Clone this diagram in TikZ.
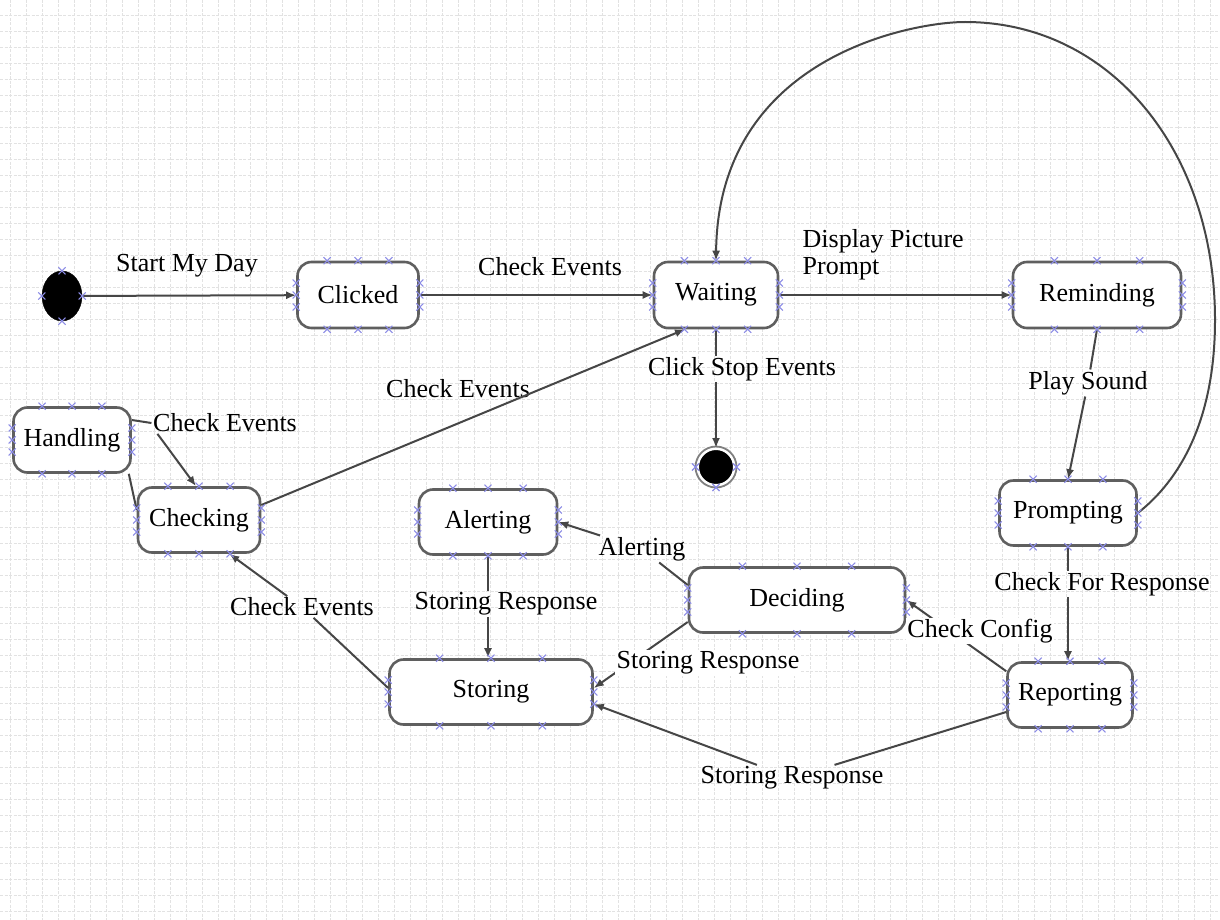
\documentclass[tikz,border=0pt]{standalone}
\usepackage{fontspec}
\setmainfont{Liberation Serif}
\usetikzlibrary{arrows.meta,shapes.geometric,shapes.misc,calc}
\definecolor{edgec}{RGB}{70,70,70}
\definecolor{boxc}{RGB}{95,95,95}
\definecolor{markc}{RGB}{140,140,230}
\definecolor{gridc}{RGB}{226,226,226}
\tikzset{
  st/.style={draw=boxc, line width=2.6pt, rounded corners=14pt, fill=white, inner sep=2pt, font=\fontsize{26}{28}\selectfont},
  lbl/.style={inner sep=1.5pt, font=\fontsize{26}{28}\selectfont},
  lblw/.style={lbl, fill=white},
  conn/.style={draw=edgec, line width=2pt},
  arr/.style={conn, -{Latex[length=10pt,width=8pt]}},
  mk/.style={draw=markc, cross out, minimum size=6pt, inner sep=0pt, line width=1.1pt},
  gridline/.style={draw=gridc, line width=0.8pt, dash pattern=on 3pt off 1.5pt}
}
\begin{document}
\begin{tikzpicture}[x=1pt,y=-1pt]
\useasboundingbox (0,0) rectangle (1220,920);
\fill[white] (0,0) rectangle (1220,920);
\foreach \gx in {10,26,...,1220} { \draw[gridline] (\gx,0) -- (\gx,920); }
\foreach \gy in {15,31,...,920} { \draw[gridline] (0,\gy) -- (1220,\gy); }

% states
\node[ellipse, fill=black, draw=black, minimum width=40pt, minimum height=50pt, inner sep=0pt] (init) at (62,296) {};
\node[st, minimum width=121pt, minimum height=66pt] (clicked) at (358,295) {Clicked};
\node[st, minimum width=124pt, minimum height=66pt] (waiting) at (716,295) {Waiting};
\node[st, minimum width=168pt, minimum height=66pt] (reminding) at (1097,295) {Reminding};
\node[st, minimum width=137pt, minimum height=65pt] (prompting) at (1068,513) {Prompting};
\node[st, minimum width=125pt, minimum height=65pt] (reporting) at (1070,695) {Reporting};
\node[st, minimum width=117pt, minimum height=65pt] (handling) at (72,440) {Handling};
\node[st, minimum width=122pt, minimum height=65pt] (checking) at (199,520) {Checking};
\node[st, minimum width=138pt, minimum height=65pt] (alerting) at (488,522) {Alerting};
\node[st, minimum width=216pt, minimum height=65pt] (deciding) at (797,600) {Deciding};
\node[st, minimum width=203pt, minimum height=65pt] (storing) at (491,692) {Storing};
\node[circle, fill=black, draw=white, line width=2pt, minimum size=36pt, inner sep=0pt] (final) at (716,467) {};
\draw[black!50, line width=1.8pt] (final.center) circle (20.5);

% labels
\node[lbl] (lsmd) at (187,266) {Start My Day};
\node[lbl] (lce0) at (550,267) {Check Events};
\node[lbl, anchor=west, align=left, font=\fontsize{26}{27}\selectfont] (ldpp) at (801,255) {Display Picture\\Prompt};
\node[lbl] (lcs) at (742,369) {Click Stop Events};
\node[lbl] (lps) at (1088,383) {Play Sound};
\node[lbl] (lce2) at (458,389) {Check Events};
\node[lbl] (lce1) at (225,423) {Check Events};
\node[lbl] (lal) at (642,549) {Alerting};
\node[lbl] (lsr1) at (506,604) {Storing Response};
\node[lbl] (lce3) at (302,607) {Check Events};
\node[lbl] (lcfr) at (1102,584) {Check For Response};
\node[lbl] (lsr3) at (792,778) {Storing Response};

% connectors
\draw[arr] (init) -- (clicked);
\draw[arr] (clicked) -- (waiting);
\draw[arr] (waiting) -- (reminding);
\draw[conn] (waiting.south) -- (waiting.south |- lcs.north);
\draw[arr] (waiting.south |- lcs.south) -- (final);
\draw[conn] (reminding.south) -- (lps);
\draw[arr] (lps) -- (prompting.north);
\draw[arr] (prompting.east) .. controls (1180,480) and (1215,420) .. (1215,320)
   .. controls (1215,150) and (1110,22) .. (965,22)
   .. controls (915,22) and (718,55) .. (waiting.north);
\draw[conn] (prompting.south) -- (prompting.south |- lcfr.north);
\draw[arr] (prompting.south |- lcfr.south) -- (prompting.south |- reporting.north);
\draw[arr] ([yshift=-10pt]reporting.north west) -- (deciding.east);
\draw[conn] ([yshift=15pt]deciding.west) -- (lal);
\draw[arr] (lal) -- (alerting.east);
\draw[conn] (alerting.south) -- (alerting.south |- lsr1.north);
\draw[arr] (alerting.south |- lsr1.south) -- (alerting.south |- storing.north);
\draw[arr] ([yshift=-22pt]deciding.west) -- ([yshift=4pt]storing.east);
\draw[conn] ([yshift=-17pt]reporting.west) -- (lsr3);
\draw[arr] (lsr3) -- ([yshift=-12pt]storing.east);
\draw[conn] ([yshift=4pt]storing.west) -- (lce3);
\draw[arr] (lce3) -- ([xshift=-32pt]checking.south east);
\draw[arr] ([yshift=15pt]checking.east) -- ([xshift=-31pt]waiting.south);
\draw[conn] ([yshift=20pt]handling.east) -- (lce1.west);
\draw[arr] ([xshift=6pt]lce1.south west) -- ([xshift=-3pt]checking.north);
\draw[conn] ([xshift=-3pt]handling.south east) -- ([yshift=10pt]checking.west);

% labels with white background over lines
\node[lblw] (lcc) at (980,631) {Check Config};
\node[lblw] (lsr2) at (708,663) {Storing Response};

% selection markers
\foreach \n in {clicked,waiting,reminding,prompting,reporting,handling,checking,alerting,deciding,storing} {
  \foreach \p in {0.25,0.5,0.75} {
    \node[mk] at ($(\n.north west)!\p!(\n.north east)$) {};
    \node[mk] at ($(\n.south west)!\p!(\n.south east)$) {};
  }
  \foreach \d in {-12,0,12} {
    \node[mk] at ([yshift=\d pt]\n.west) {};
    \node[mk] at ([yshift=\d pt]\n.east) {};
  }
}
\foreach \a in {north,south,east,west} {
  \node[mk] at (init.\a) {};
}
\foreach \a in {south,east,west} {
  \node[mk] at ($(final.center)!20.5pt!(final.\a)$) {};
}
\end{tikzpicture}
\end{document}
